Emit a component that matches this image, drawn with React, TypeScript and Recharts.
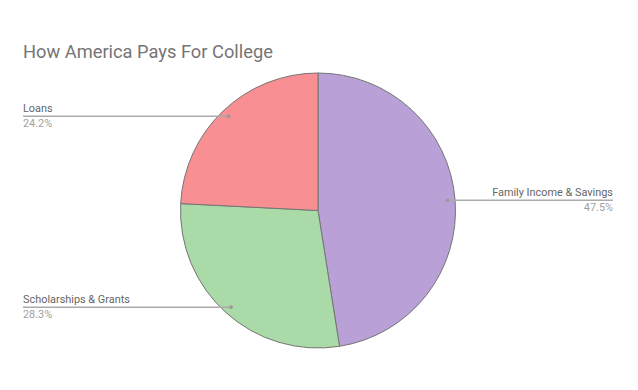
import React from "react";
import { PieChart, Pie, Cell } from "recharts";

const categories = ["Family Income & Savings", "Scholarships & Grants", "Loans"];
const shares = [47.5, 28.3, 24.2];
const colors = ["#b9a0d6", "#aadaa8", "#f78f93"];
const title = "How America Pays For College";

const data = categories.map((name, i) => ({ name, value: shares[i] }));

const RAD = Math.PI / 180;
const FONT = "Roboto, 'Noto Sans', sans-serif";

const renderLabel = (props: any) => {
  const { cx, cy, midAngle, outerRadius, name, value } = props;
  const r = outerRadius * 0.945;
  const x = cx + r * Math.cos(-midAngle * RAD);
  const y = cy + r * Math.sin(-midAngle * RAD);
  const right = x > cx;
  const edge = right ? 613 : 23;
  const anchor = right ? "end" : "start";
  return (
    <g>
      <line x1={x} y1={y} x2={edge} y2={y} stroke="#ababab" strokeWidth={1.5} />
      <circle cx={x} cy={y} r={1.8} fill="#999" />
      <text x={edge} y={y - 4} textAnchor={anchor} fontSize={10.9} fill="#666666" fontFamily={FONT}>
        {name}
      </text>
      <text x={edge} y={y + 10.5} textAnchor={anchor} fontSize={10.9} fill="#a0a0a0" fontFamily={FONT}>
        {value.toFixed(1)}%
      </text>
    </g>
  );
};

export default function App() {
  return (
    <div style={{ position: "absolute", left: 0, top: 0, width: 638, height: 390, background: "#fff" }}>
      <svg width={638} height={390} style={{ position: "absolute", left: 0, top: 0 }}>
        <text x={23} y={57.5} fontSize={18.3} fill="#757575" fontFamily={FONT}>
          {title}
        </text>
      </svg>
      <div style={{ position: "absolute", left: 0, top: 0 }}>
        <PieChart width={638} height={390} margin={{ top: 0, right: 0, bottom: 0, left: 0 }}>
          <Pie
            data={data}
            dataKey="value"
            nameKey="name"
            cx={318}
            cy={210.5}
            outerRadius={137.5}
            startAngle={90}
            endAngle={-270}
            stroke="#757575"
            strokeWidth={1}
            label={renderLabel}
            labelLine={false}
            isAnimationActive={false}
          >
            {data.map((d, i) => (
              <Cell key={d.name} fill={colors[i]} />
            ))}
          </Pie>
        </PieChart>
      </div>
    </div>
  );
}
